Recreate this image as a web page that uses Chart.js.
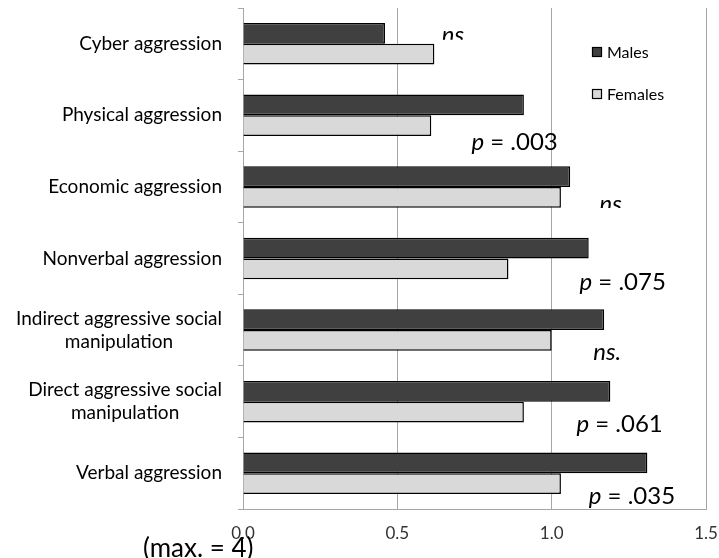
<!DOCTYPE html>
<html>
<head>
<meta charset="utf-8">
<script src="https://cdn.jsdelivr.net/npm/chart.js@4.4.1/dist/chart.umd.min.js"></script>
<style>
  html, body { margin: 0; padding: 0; background: #fff; }
  #wrap { width: 719px; height: 558px; }
</style>
</head>
<body>
<div id="wrap"><canvas id="chart"></canvas></div>
<script>
const categories = [
  'Cyber aggression',
  'Physical aggression',
  'Economic aggression',
  'Nonverbal aggression',
  ['Indirect aggressive social', 'manipulation'],
  ['Direct aggressive social', 'manipulation'],
  'Verbal aggression'
];
const males = [0.46, 0.91, 1.06, 1.12, 1.17, 1.19, 1.31];
const females = [0.62, 0.61, 1.03, 0.86, 1.00, 0.91, 1.03];
const pLabels = ['ns', '.003', 'ns.', '.075', 'ns.', '.061', '.035'];
const xTicks = [0, 0.5, 1.0, 1.5];

// where each p-label sits: x in data units, y offset from category centre (px), clip bottom offset
const pPlace = [
  { x: 0.68, dy: -1, clip: -4 },
  { x: 0.88, dy: 35 },
  { x: 1.20, dy: 25, clip: 21 },
  { x: 1.23, dy: 31 },
  { x: 1.18, dy: 30 },
  { x: 1.22, dy: 30 },
  { x: 1.26, dy: 31 }
];

const FONT = 'Lato, "Open Sans", sans-serif';

const pPlugin = {
  id: 'pvals',
  afterDraw(chart) {
    const { ctx, scales } = chart;
    ctx.save();
    ctx.fillStyle = '#000';

    // category labels: block right-aligned, lines centred inside the block
    ctx.font = '19px ' + FONT;
    ctx.textBaseline = 'middle';
    ctx.textAlign = 'center';
    const right = scales.y.right - 21;
    categories.forEach((c, i) => {
      const lines = Array.isArray(c) ? c : [c];
      const w = Math.max(...lines.map(l => ctx.measureText(l).width));
      const cy = scales.y.getPixelForValue(i);
      const lh = 23;
      lines.forEach((l, k) => {
        ctx.fillText(l, right - w / 2, cy + (k - (lines.length - 1) / 2) * lh);
      });
    });

    ctx.textBaseline = 'alphabetic';
    pLabels.forEach((lab, i) => {
      const cx = scales.x.getPixelForValue(pPlace[i].x);
      const cy = scales.y.getPixelForValue(i) + pPlace[i].dy;
      ctx.save();
      if (pPlace[i].clip !== undefined) {
        ctx.beginPath();
        ctx.rect(0, 0, 719, scales.y.getPixelForValue(i) + pPlace[i].clip);
        ctx.clip();
      }
      if (lab.startsWith('n')) {
        ctx.font = 'italic 24px ' + FONT;
        ctx.textAlign = 'center';
        ctx.fillText(lab, cx, cy);
      } else {
        ctx.font = 'italic 24px ' + FONT;
        const a = 'p';
        ctx.textAlign = 'left';
        const wa = ctx.measureText(a).width;
        ctx.font = '24px ' + FONT;
        const b = ' = ' + lab;
        const wb = ctx.measureText(b).width;
        const x0 = cx - (wa + wb) / 2;
        ctx.font = 'italic 24px ' + FONT;
        ctx.fillText(a, x0, cy);
        ctx.font = '24px ' + FONT;
        ctx.fillText(b, x0 + wa, cy);
      }
      ctx.restore();
    });

    // legend
    const items = [['Males', '#404040', 52], ['Females', '#d9d9d9', 94]];
    ctx.font = '16px ' + FONT;
    ctx.textAlign = 'left';
    ctx.textBaseline = 'middle';
    items.forEach(([t, c, y]) => {
      ctx.fillStyle = c;
      ctx.fillRect(592, y - 5, 10, 10);
      ctx.strokeStyle = '#000';
      ctx.lineWidth = 1.2;
      ctx.strokeRect(592.5, y - 4.5, 9, 9);
      ctx.fillStyle = '#000';
      ctx.fillText(t, 607, y + 1);
    });

    // axis note
    ctx.font = '26px ' + FONT;
    ctx.textAlign = 'left';
    ctx.textBaseline = 'alphabetic';
    ctx.fillText('(max. = 4)', 143, 557);
    ctx.restore();
  }
};

new Chart(document.getElementById('chart'), {
  type: 'bar',
  data: {
    labels: categories,
    datasets: [
      { label: 'Males', data: males, backgroundColor: '#404040', borderColor: '#000', borderWidth: 1.5, borderSkipped: 'left' },
      { label: 'Females', data: females, backgroundColor: '#d9d9d9', borderColor: '#000', borderWidth: 1.5, borderSkipped: 'left' }
    ]
  },
  options: {
    indexAxis: 'y',
    responsive: true,
    maintainAspectRatio: false,
    animation: false,
    layout: { padding: { top: 8, right: 13, left: 0, bottom: 0 } },
    datasets: { bar: { categoryPercentage: 0.58, barPercentage: 1.0 } },
    plugins: { legend: { display: false }, tooltip: { enabled: false } },
    scales: {
      x: {
        min: 0, max: 1.5,
        afterBuildTicks: s => { s.ticks = xTicks.map(v => ({ value: v })); },
        afterFit: s => { s.height = 49; s.paddingLeft = 0; s.paddingRight = 0; },
        grid: { color: '#a6a6a6', drawTicks: false, lineWidth: 1 },
        border: { color: '#a6a6a6' },
        ticks: { padding: 14, color: '#333', font: { family: FONT, size: 17 }, callback: v => v.toFixed(1) }
      },
      y: {
        afterFit: s => { s.width = 243; s.paddingTop = 0; s.paddingBottom = 0; },
        grid: { offset: true, drawOnChartArea: false, tickLength: 5, color: '#a6a6a6' },
        border: { color: '#a6a6a6' },
        ticks: { padding: 14, color: 'rgba(0,0,0,0)', font: { family: FONT, size: 19 } }
      }
    }
  },
  plugins: [pPlugin]
});
</script>
</body>
</html>
